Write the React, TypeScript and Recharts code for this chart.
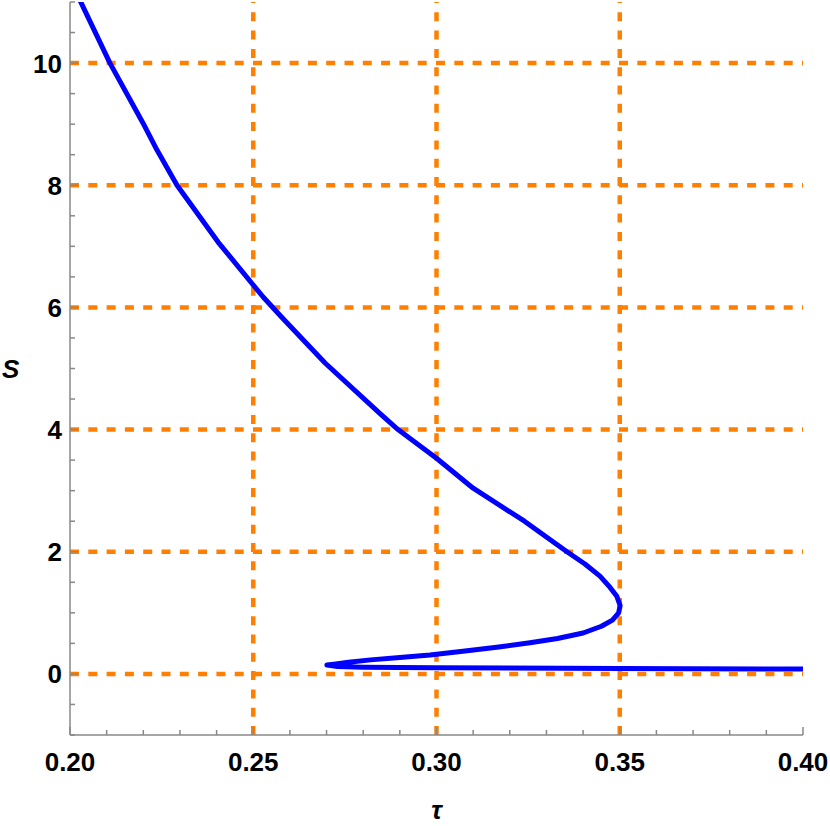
import { LineChart, Line, XAxis, YAxis, ReferenceLine, Label } from 'recharts'

// S(τ) curve, in drawing order
const tauValues = [
  0.2027, 0.2109, 0.2199, 0.2237, 0.2292, 0.2404, 0.2527, 0.2579, 0.2696, 0.2846, 0.2895,
  0.3, 0.31, 0.324, 0.3356, 0.3405, 0.3446, 0.3473, 0.3492, 0.3501, 0.3497, 0.348, 0.345,
  0.34, 0.333, 0.3255, 0.317, 0.3072, 0.2982, 0.29, 0.282, 0.276, 0.272, 0.2701, 0.273,
  0.28, 0.3, 0.35, 0.4,
]
const sValues = [
  11.03, 10.0, 9.02, 8.58, 8.0, 7.07, 6.17, 5.83, 5.09, 4.26, 4.0,
  3.53, 3.04, 2.5, 2.0, 1.8, 1.6, 1.42, 1.27, 1.12, 1.0, 0.88, 0.78,
  0.67, 0.58, 0.51, 0.44, 0.37, 0.31, 0.27, 0.23, 0.19, 0.16, 0.145, 0.12,
  0.11, 0.1, 0.09, 0.08,
]

const tauTicks = [
  0.2, 0.21, 0.22, 0.23, 0.24, 0.25, 0.26, 0.27, 0.28, 0.29, 0.3,
  0.31, 0.32, 0.33, 0.34, 0.35, 0.36, 0.37, 0.38, 0.39, 0.4,
]
const tauMajor = [0.2, 0.25, 0.3, 0.35, 0.4]
const sTicks = [
  -1, -0.5, 0, 0.5, 1, 1.5, 2, 2.5, 3, 3.5, 4, 4.5, 5, 5.5, 6, 6.5, 7, 7.5,
  8, 8.5, 9, 9.5, 10, 10.5, 11,
]
const sMajor = [0, 2, 4, 6, 8, 10]

const gridTau = [0.25, 0.3, 0.35]
const gridS = [0, 2, 4, 6, 8, 10]

const data = tauValues.map((t, i) => ({ tau: t, s: sValues[i] }))

const FRAME = '#888'
const GRID = '#ff8000'
const FONT = '"Liberation Sans", Arial, sans-serif'

const tickLen = (major: boolean) => (major ? 8 : 5)

function BottomTick({ x, y, payload }: any) {
  const major = tauMajor.includes(payload.value)
  return (
    <g>
      <line x1={x} x2={x} y1={y} y2={y - tickLen(major)} stroke={FRAME} strokeWidth={1.5} />
      {major && (
        <text x={x} y={y + 36} textAnchor="middle" fontSize={26} fontWeight="bold" fontFamily={FONT} fill="#000">
          {payload.value.toFixed(2)}
        </text>
      )}
    </g>
  )
}

function TopTick({ x, y, payload }: any) {
  const major = tauMajor.includes(payload.value)
  return <line x1={x} x2={x} y1={y} y2={y + tickLen(major)} stroke={FRAME} strokeWidth={1.5} />
}

function LeftTick({ x, y, payload }: any) {
  const major = sMajor.includes(payload.value)
  return (
    <g>
      <line x1={x} x2={x + tickLen(major)} y1={y} y2={y} stroke={FRAME} strokeWidth={1.5} />
      {major && (
        <text x={x - 8} y={y + 9.5} textAnchor="end" fontSize={26} fontWeight="bold" fontFamily={FONT} fill="#000">
          {payload.value}
        </text>
      )}
    </g>
  )
}

function RightTick({ x, y, payload }: any) {
  const major = sMajor.includes(payload.value)
  return <line x1={x} x2={x - tickLen(major)} y1={y} y2={y} stroke={FRAME} strokeWidth={1.5} />
}

export default function App() {
  const axisLine = { stroke: FRAME, strokeWidth: 1.5 }
  return (
    <div style={{ position: 'absolute', left: 0, top: 0, width: 830, height: 826, background: '#fff' }}>
      <LineChart width={830} height={826} data={data} margin={{ top: 2, right: 27, bottom: 0, left: 0 }}>
        <XAxis
          dataKey="tau"
          type="number"
          domain={[0.2, 0.4]}
          ticks={tauTicks}
          interval={0}
          height={91}
          tickSize={0}
          tickMargin={0}
          tickLine={false}
          axisLine={axisLine}
          tick={<BottomTick />}
        >
          <Label
            value="τ"
            position="insideBottom"
            offset={7}
            style={{ fontSize: 26, fontWeight: 'bold', fontStyle: 'italic', fontFamily: FONT, fill: '#000' }}
          />
        </XAxis>
        <XAxis
          xAxisId="top"
          orientation="top"
          dataKey="tau"
          type="number"
          domain={[0.2, 0.4]}
          ticks={tauTicks}
          interval={0}
          height={0}
          tickSize={0}
          tickMargin={0}
          tickLine={false}
          axisLine={axisLine}
          tick={<TopTick />}
        />
        <YAxis
          type="number"
          domain={[-1, 11]}
          allowDataOverflow
          ticks={sTicks}
          interval={0}
          width={70}
          tickSize={0}
          tickMargin={0}
          tickLine={false}
          axisLine={axisLine}
          tick={<LeftTick />}
        >
          <Label
            value="S"
            position="insideLeft"
            offset={2}
            angle={0}
            style={{ fontSize: 26, fontWeight: 'bold', fontStyle: 'italic', fontFamily: FONT, fill: '#000' }}
          />
        </YAxis>
        <YAxis
          yAxisId="right"
          orientation="right"
          type="number"
          domain={[-1, 11]}
          ticks={sTicks}
          interval={0}
          width={0}
          tickSize={0}
          tickMargin={0}
          tickLine={false}
          axisLine={axisLine}
          tick={<RightTick />}
        />
        {gridTau.map((v) => (
          <ReferenceLine key={'x' + v} x={v} stroke={GRID} strokeWidth={4.5} strokeDasharray="9 9.3" />
        ))}
        {gridS.map((v) => (
          <ReferenceLine key={'y' + v} y={v} stroke={GRID} strokeWidth={4.5} strokeDasharray="9 9.3" />
        ))}
        <Line
          type="linear"
          dataKey="s"
          stroke="#0000ff"
          strokeWidth={5}
          strokeLinejoin="round"
          dot={false}
          activeDot={false}
          isAnimationActive={false}
        />
      </LineChart>
    </div>
  )
}
